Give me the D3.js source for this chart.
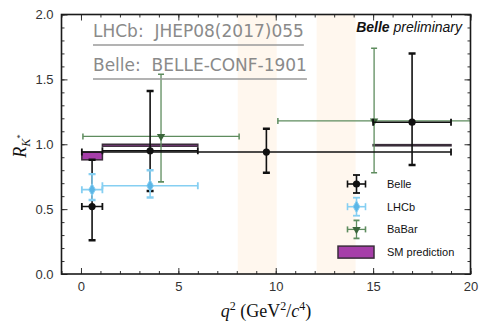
<!DOCTYPE html>
<html>
<head>
<meta charset="utf-8">
<script src="https://cdn.jsdelivr.net/npm/d3@7"></script>
<style>
  html, body { margin: 0; padding: 0; background: #fff; }
  svg { display: block; }
</style>
</head>
<body>
<svg id="chart" width="479" height="323"></svg>
<script>
// ---- Data: R_K* measurements per q^2 bin ----
const belleX     = [0.57, 3.55, 9.52, 17.0];
const belleBinLo = [0.045, 1.1, 0.045, 15.0];
const belleBinHi = [1.1, 6.0, 19.0, 19.0];
const belleR     = [0.52, 0.95, 0.94, 1.17];
const belleYLow  = [0.26, 0.64, 0.78, 0.84];
const belleYHigh = [0.88, 1.41, 1.12, 1.70];

const lhcbX     = [0.57, 3.55];
const lhcbBinLo = [0.045, 1.1];
const lhcbBinHi = [1.1, 6.0];
const lhcbR     = [0.65, 0.68];
const lhcbYLow  = [0.57, 0.59];
const lhcbYHigh = [0.77, 0.80];

const babarX     = [4.11, 15.05];
const babarBinLo = [0.1, 10.11];
const babarBinHi = [8.12, 20.0];
const babarR     = [1.06, 1.18];
const babarYLow  = [0.71, 0.78];
const babarYHigh = [1.54, 1.74];

const smBinLo = [0.045, 1.1, 15.0];
const smBinHi = [1.1, 6.0, 19.0];
const smLow   = [0.88, 0.985, 0.988];
const smHigh  = [0.94, 1.0, 0.997];

// charmonium veto regions
const vetoLo = [8.05, 12.1];
const vetoHi = [10.05, 14.1];

const xTicks = [0, 5, 10, 15, 20];
const yTicks = [0.0, 0.5, 1.0, 1.5, 2.0];
const legendNames = ["Belle", "LHCb", "BaBar", "SM prediction"];

// ---- Layout ----
const svg = d3.select("#chart");
const pL = 61.5, pR = 470.5, pT = 14.5, pB = 274;
const x = d3.scaleLinear().domain([-1, 20]).range([pL, pR]);
const y = d3.scaleLinear().domain([0, 2]).range([pB, pT]);

const C = {
  belle: "#111111",
  lhcb: "#86cff2",
  lhcbFill: "#5cb6e6",
  babar: "#5e8c5e",
  babarMark: "#3b663b",
  smFill: "#a63ea9",
  smEdge: "#3a2d3a",
  veto: "#fff7ee",
  note: "#8a8a8a"
};

svg.append("defs").append("clipPath").attr("id", "plotClip")
  .append("rect").attr("x", pL).attr("y", pT)
  .attr("width", pR - pL).attr("height", pB - pT);

const plot = svg.append("g").attr("clip-path", "url(#plotClip)");

// veto bands
plot.selectAll("rect.veto").data(vetoLo).join("rect")
  .attr("class", "veto")
  .attr("x", d => x(d))
  .attr("width", (d, i) => x(vetoHi[i]) - x(d))
  .attr("y", pT).attr("height", pB - pT)
  .attr("fill", C.veto);

// reference notes with rules under them
const notes = ["LHCb:  JHEP08(2017)055", "Belle:  BELLE-CONF-1901"];
const noteG = svg.append("g");
notes.forEach((t, i) => {
  const by = 37 + i * 34;
  const txt = noteG.append("text")
    .attr("x", 93).attr("y", by)
    .attr("font-family", "DejaVu Sans, sans-serif")
    .attr("font-size", 17).attr("fill", C.note)
    .style("white-space", "pre")
    .text(t);
  const w = txt.node().getComputedTextLength();
  noteG.append("line")
    .attr("x1", 93).attr("x2", 93 + w)
    .attr("y1", by + 8).attr("y2", by + 8)
    .attr("stroke", "#9a9a9a").attr("stroke-width", 1.6);
});

// SM prediction boxes
plot.selectAll("rect.sm").data(smBinLo).join("rect")
  .attr("class", "sm")
  .attr("x", d => x(d))
  .attr("width", (d, i) => x(smBinHi[i]) - x(d))
  .attr("y", (d, i) => y(smHigh[i]))
  .attr("height", (d, i) => y(smLow[i]) - y(smHigh[i]))
  .attr("fill", C.smFill).attr("stroke", C.smEdge).attr("stroke-width", 1.5);

// generic error-bar drawer
function errorBars(g, xs, lo, hi, rs, ylo, yhi, color, width, cap) {
  xs.forEach((xc, i) => {
    const px = x(xc), py = y(rs[i]);
    g.append("line").attr("x1", x(lo[i])).attr("x2", x(hi[i]))
      .attr("y1", py).attr("y2", py)
      .attr("stroke", color).attr("stroke-width", width);
    g.append("line").attr("x1", px).attr("x2", px)
      .attr("y1", y(ylo[i])).attr("y2", y(yhi[i]))
      .attr("stroke", color).attr("stroke-width", width);
    [x(lo[i]), x(hi[i])].forEach(cx => {
      g.append("line").attr("x1", cx).attr("x2", cx)
        .attr("y1", py - cap).attr("y2", py + cap)
        .attr("stroke", color).attr("stroke-width", cap > 3 ? 1.8 : 1.5);
    });
    [y(ylo[i]), y(yhi[i])].forEach(cy => {
      g.append("line").attr("x1", px - cap).attr("x2", px + cap)
        .attr("y1", cy).attr("y2", cy)
        .attr("stroke", color).attr("stroke-width", cap > 3 ? 2.4 : 1.6);
    });
  });
}

// BaBar
const gB = plot.append("g");
errorBars(gB, babarX, babarBinLo, babarBinHi, babarR, babarYLow, babarYHigh, C.babar, 1.3, 3);
const tri = d3.symbol().type(d3.symbolTriangle).size(30);
gB.selectAll("path.bm").data(babarX).join("path")
  .attr("transform", (d, i) => `translate(${x(d)},${y(babarR[i])}) rotate(180)`)
  .attr("d", tri).attr("fill", C.babarMark);

// Belle
const gBe = plot.append("g");
errorBars(gBe, belleX, belleBinLo, belleBinHi, belleR, belleYLow, belleYHigh, C.belle, 1.6, 3.5);
gBe.selectAll("circle").data(belleX).join("circle")
  .attr("cx", d => x(d)).attr("cy", (d, i) => y(belleR[i]))
  .attr("r", 3.6).attr("fill", C.belle);

// LHCb
const gL = plot.append("g");
errorBars(gL, lhcbX, lhcbBinLo, lhcbBinHi, lhcbR, lhcbYLow, lhcbYHigh, C.lhcb, 1.6, 3.5);
const dia = d3.symbol().type(d3.symbolDiamond).size(40);
gL.selectAll("path.lm").data(lhcbX).join("path")
  .attr("transform", (d, i) => `translate(${x(d)},${y(lhcbR[i])})`)
  .attr("d", dia).attr("fill", C.lhcbFill).attr("stroke", C.lhcb).attr("stroke-width", 1);

// ---- Axes (ticks point inward on all four sides) ----
const axisStyle = g => {
  g.select(".domain").remove();
  g.selectAll("line").attr("stroke", "#333").attr("stroke-width", 1);
  g.selectAll("text").attr("font-family", "Liberation Sans, Arial, sans-serif")
    .attr("font-size", 13).attr("fill", "#333");
};
const xMinor = d3.range(-1, 21, 1);
const yMinor = d3.range(0, 2.0001, 0.1);

svg.append("g").attr("transform", `translate(0,${pB})`)
  .call(d3.axisBottom(x).tickValues(xMinor).tickSize(-3).tickFormat("")).call(axisStyle);
svg.append("g").attr("transform", `translate(0,${pB})`)
  .call(d3.axisBottom(x).tickValues(xTicks).tickSize(-6).tickPadding(8).tickFormat(d3.format("d"))).call(axisStyle);
svg.append("g").attr("transform", `translate(0,${pT})`)
  .call(d3.axisTop(x).tickValues(xMinor).tickSize(-3).tickFormat("")).call(axisStyle);
svg.append("g").attr("transform", `translate(0,${pT})`)
  .call(d3.axisTop(x).tickValues(xTicks).tickSize(-6).tickFormat("")).call(axisStyle);

svg.append("g").attr("transform", `translate(${pL},0)`)
  .call(d3.axisLeft(y).tickValues(yMinor).tickSize(-3).tickFormat("")).call(axisStyle);
svg.append("g").attr("transform", `translate(${pL},0)`)
  .call(d3.axisLeft(y).tickValues(yTicks).tickSize(-6).tickPadding(8).tickFormat(d3.format(".1f"))).call(axisStyle);
svg.append("g").attr("transform", `translate(${pR},0)`)
  .call(d3.axisRight(y).tickValues(yMinor).tickSize(-3).tickFormat("")).call(axisStyle);
svg.append("g").attr("transform", `translate(${pR},0)`)
  .call(d3.axisRight(y).tickValues(yTicks).tickSize(-6).tickFormat("")).call(axisStyle);

// frame
svg.append("rect").attr("x", pL).attr("y", pT)
  .attr("width", pR - pL).attr("height", pB - pT)
  .attr("fill", "none").attr("stroke", "#1a1a1a").attr("stroke-width", 1.6);

// ---- Labels ----
svg.append("text").attr("x", 462).attr("y", 32).attr("text-anchor", "end")
  .attr("font-family", "Liberation Sans, Arial, sans-serif").attr("font-size", 14)
  .attr("font-style", "italic").attr("fill", "#111")
  .call(t => {
    t.append("tspan").attr("font-weight", "bold").text("Belle");
    t.append("tspan").text(" preliminary");
  });

const xl = svg.append("text").attr("x", 266).attr("y", 317).attr("text-anchor", "middle")
  .attr("font-family", "Liberation Serif, DejaVu Serif, serif").attr("font-size", 18).attr("fill", "#111");
xl.append("tspan").attr("font-style", "italic").text("q");
xl.append("tspan").attr("font-size", 12).attr("dy", -7).text("2");
xl.append("tspan").attr("dy", 7).text(" (GeV");
xl.append("tspan").attr("font-size", 12).attr("dy", -7).text("2");
xl.append("tspan").attr("dy", 7).text("/");
xl.append("tspan").attr("font-style", "italic").text("c");
xl.append("tspan").attr("font-size", 12).attr("dy", -7).text("4");
xl.append("tspan").attr("dy", 7).text(")");

const yl = svg.append("text").attr("transform", "translate(26,146) rotate(-90)")
  .attr("text-anchor", "middle")
  .attr("font-family", "Liberation Serif, DejaVu Serif, serif").attr("font-size", 18).attr("fill", "#111");
yl.append("tspan").attr("font-style", "italic").text("R");
yl.append("tspan").attr("font-style", "italic").attr("font-size", 12).attr("dy", 4).text("K");
yl.append("tspan").attr("font-size", 9).attr("dy", -7).text("*");

// ---- Legend ----
const lg = svg.append("g");
const lx = 356.5, ly0 = 184, dy = 22.7;
legendNames.forEach((name, i) => {
  const cy = ly0 + i * dy;
  lg.append("text").attr("x", 387).attr("y", cy + 4)
    .attr("font-family", "Liberation Sans, Arial, sans-serif").attr("font-size", 11)
    .attr("fill", "#111").text(name);
});
function legendBar(cy, color, cap, lw) {
  lg.append("line").attr("x1", lx - 9).attr("x2", lx + 9).attr("y1", cy).attr("y2", cy)
    .attr("stroke", color).attr("stroke-width", lw);
  lg.append("line").attr("x1", lx).attr("x2", lx).attr("y1", cy - 9).attr("y2", cy + 9)
    .attr("stroke", color).attr("stroke-width", lw);
  [lx - 9, lx + 9].forEach(cx => lg.append("line").attr("x1", cx).attr("x2", cx)
    .attr("y1", cy - cap).attr("y2", cy + cap).attr("stroke", color).attr("stroke-width", 1.6));
  [cy - 9, cy + 9].forEach(yy => lg.append("line").attr("x1", lx - cap).attr("x2", lx + cap)
    .attr("y1", yy).attr("y2", yy).attr("stroke", color).attr("stroke-width", 1.8));
}
legendBar(ly0, C.belle, 3.5, 1.6);
lg.append("circle").attr("cx", lx).attr("cy", ly0).attr("r", 3.6).attr("fill", C.belle);
legendBar(ly0 + dy, C.lhcb, 3.5, 1.6);
lg.append("path").attr("transform", `translate(${lx},${ly0 + dy})`).attr("d", dia)
  .attr("fill", C.lhcbFill).attr("stroke", C.lhcb);
legendBar(ly0 + 2 * dy, C.babar, 3, 1.3);
lg.append("path").attr("transform", `translate(${lx},${ly0 + 2 * dy}) rotate(180)`).attr("d", tri)
  .attr("fill", C.babarMark);
lg.append("rect").attr("x", 338).attr("y", ly0 + 3 * dy - 6).attr("width", 36).attr("height", 12)
  .attr("fill", C.smFill).attr("stroke", C.smEdge).attr("stroke-width", 1.5);
</script>
</body>
</html>
